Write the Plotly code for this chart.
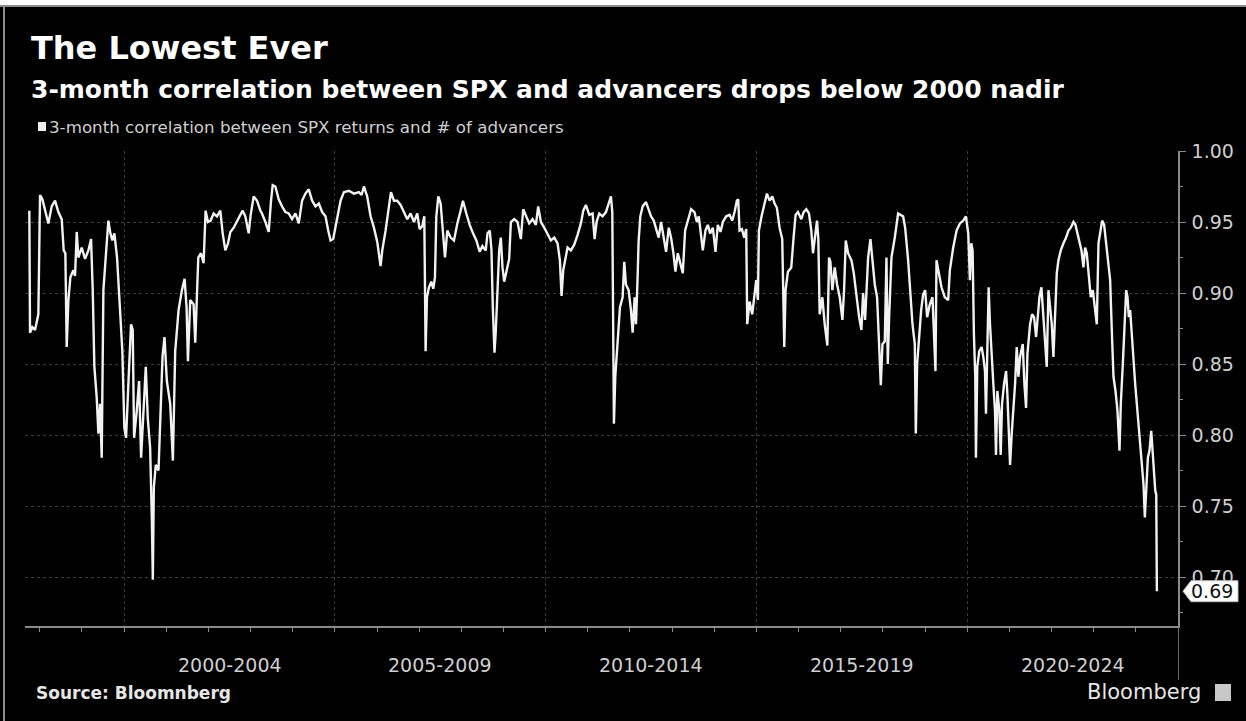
import plotly.graph_objects as go
from datetime import datetime

# ---------------- data (decimal year, correlation) ----------------
years_a = [1997.750, 1997.766, 1997.821, 1997.885, 1997.964, 1998.004, 1998.059, 1998.122, 1998.201, 1998.281,
           1998.360, 1998.439, 1998.518, 1998.566, 1998.605, 1998.637, 1998.677, 1998.724, 1998.795, 1998.835,
           1998.875, 1998.914, 1998.993, 1999.073, 1999.152, 1999.215, 1999.255, 1999.294, 1999.350, 1999.389,
           1999.429, 1999.468, 1999.508, 1999.563, 1999.626, 1999.674, 1999.721, 1999.769, 1999.832, 1999.903,
           1999.958, 2000.006, 2000.046, 2000.101, 2000.164, 2000.204, 2000.236, 2000.299, 2000.354, 2000.402,
           2000.457, 2000.513, 2000.560, 2000.616, 2000.656, 2000.680, 2000.703, 2000.750, 2000.814, 2000.861,
           2000.909, 2000.956, 2001.012, 2001.091, 2001.155, 2001.210, 2001.290, 2001.369, 2001.433, 2001.480,
           2001.512, 2001.567, 2001.647, 2001.686, 2001.726, 2001.758, 2001.821, 2001.884, 2001.932, 2001.988,
           2002.051, 2002.123, 2002.202, 2002.281, 2002.337, 2002.400, 2002.463, 2002.519, 2002.598, 2002.677,
           2002.756, 2002.812, 2002.875, 2002.954, 2003.002, 2003.073, 2003.152, 2003.232]
values_a = [0.958, 0.872, 0.876, 0.874, 0.885, 0.969, 0.966, 0.959, 0.949, 0.961,
            0.965, 0.957, 0.952, 0.930, 0.928, 0.862, 0.895, 0.911, 0.916, 0.912,
            0.943, 0.925, 0.932, 0.924, 0.930, 0.938, 0.902, 0.848, 0.826, 0.801,
            0.822, 0.784, 0.902, 0.925, 0.951, 0.942, 0.937, 0.942, 0.925, 0.888,
            0.859, 0.805, 0.798, 0.836, 0.878, 0.874, 0.798, 0.817, 0.838, 0.784,
            0.812, 0.848, 0.812, 0.791, 0.742, 0.698, 0.763, 0.779, 0.775, 0.817,
            0.855, 0.869, 0.838, 0.822, 0.782, 0.859, 0.888, 0.902, 0.910, 0.890,
            0.852, 0.895, 0.892, 0.865, 0.899, 0.925, 0.928, 0.921, 0.958, 0.950,
            0.951, 0.956, 0.954, 0.958, 0.942, 0.930, 0.935, 0.943, 0.946, 0.951,
            0.955, 0.958, 0.954, 0.942, 0.955, 0.968, 0.965, 0.958]

years_b = [2003.271, 2003.351, 2003.430, 2003.485, 2003.525, 2003.588, 2003.667, 2003.747, 2003.826, 2003.905,
           2003.984, 2004.063, 2004.143, 2004.222, 2004.301, 2004.380, 2004.459, 2004.539, 2004.618, 2004.697,
           2004.776, 2004.840, 2004.895, 2004.958, 2005.053, 2005.133, 2005.212, 2005.331, 2005.449, 2005.568,
           2005.632, 2005.687, 2005.766, 2005.845, 2005.925, 2006.004, 2006.083, 2006.123, 2006.202, 2006.281,
           2006.329, 2006.400, 2006.479, 2006.558, 2006.637, 2006.717, 2006.796, 2006.875, 2006.954, 2007.010,
           2007.073, 2007.121, 2007.152, 2007.184, 2007.231, 2007.287, 2007.334, 2007.374, 2007.406, 2007.453,
           2007.509, 2007.564, 2007.612, 2007.667, 2007.746, 2007.825, 2007.905, 2007.984, 2008.039, 2008.118,
           2008.198, 2008.277, 2008.356, 2008.435, 2008.499, 2008.578]
values_b = [0.956, 0.950, 0.943, 0.965, 0.976, 0.975, 0.966, 0.961, 0.957, 0.956,
            0.952, 0.956, 0.949, 0.965, 0.970, 0.973, 0.965, 0.961, 0.963, 0.957,
            0.954, 0.944, 0.937, 0.938, 0.954, 0.965, 0.971, 0.972, 0.970, 0.971,
            0.969, 0.975, 0.968, 0.954, 0.946, 0.936, 0.919, 0.930, 0.944, 0.961,
            0.971, 0.965, 0.965, 0.962, 0.957, 0.952, 0.956, 0.950, 0.956, 0.945,
            0.947, 0.954, 0.859, 0.897, 0.904, 0.908, 0.903, 0.911, 0.954, 0.968,
            0.963, 0.942, 0.925, 0.944, 0.939, 0.937, 0.949, 0.958, 0.965, 0.956,
            0.948, 0.942, 0.937, 0.929, 0.933, 0.930]

years_c = [2008.619, 2008.674, 2008.714, 2008.745, 2008.785, 2008.817, 2008.856, 2008.896, 2008.935, 2008.975,
           2009.015, 2009.070, 2009.133, 2009.173, 2009.252, 2009.331, 2009.410, 2009.466, 2009.529, 2009.609,
           2009.688, 2009.767, 2009.822, 2009.886, 2009.965, 2010.044, 2010.123, 2010.203, 2010.282, 2010.337,
           2010.377, 2010.416, 2010.464, 2010.519, 2010.598, 2010.678, 2010.757, 2010.836, 2010.892, 2010.955,
           2011.034, 2011.113, 2011.161, 2011.208, 2011.272, 2011.351, 2011.430, 2011.509, 2011.549, 2011.581,
           2011.604, 2011.620, 2011.652, 2011.707, 2011.763, 2011.826, 2011.866, 2011.905, 2011.969, 2012.024,
           2012.064, 2012.111, 2012.143, 2012.182, 2012.206, 2012.246, 2012.301, 2012.381, 2012.444, 2012.499,
           2012.563, 2012.618, 2012.681, 2012.737, 2012.792, 2012.856, 2012.919, 2012.974, 2013.030, 2013.077,
           2013.133, 2013.188, 2013.252, 2013.307, 2013.371, 2013.450, 2013.529, 2013.585, 2013.632, 2013.688,
           2013.727, 2013.790, 2013.846, 2013.901, 2013.965, 2014.028, 2014.083, 2014.147]
values_c = [0.942, 0.944, 0.930, 0.890, 0.858, 0.874, 0.906, 0.930, 0.939, 0.918,
            0.908, 0.916, 0.924, 0.950, 0.952, 0.950, 0.938, 0.959, 0.955, 0.949,
            0.952, 0.948, 0.961, 0.950, 0.946, 0.941, 0.937, 0.939, 0.935, 0.923,
            0.898, 0.916, 0.925, 0.932, 0.930, 0.934, 0.941, 0.949, 0.958, 0.962,
            0.955, 0.956, 0.938, 0.950, 0.956, 0.954, 0.957, 0.965, 0.968, 0.957,
            0.883, 0.808, 0.841, 0.864, 0.890, 0.897, 0.922, 0.906, 0.902, 0.888,
            0.872, 0.897, 0.878, 0.912, 0.937, 0.954, 0.961, 0.964, 0.958, 0.954,
            0.951, 0.945, 0.939, 0.950, 0.939, 0.929, 0.946, 0.939, 0.928, 0.915,
            0.928, 0.921, 0.914, 0.944, 0.951, 0.959, 0.957, 0.950, 0.954, 0.939,
            0.930, 0.944, 0.948, 0.942, 0.946, 0.929, 0.948, 0.943]

years_d = [2014.203, 2014.283, 2014.362, 2014.425, 2014.481, 2014.536, 2014.568, 2014.599, 2014.655, 2014.710,
           2014.758, 2014.782, 2014.837, 2014.900, 2014.956, 2014.995, 2015.035, 2015.059, 2015.122, 2015.193,
           2015.249, 2015.312, 2015.376, 2015.431, 2015.486, 2015.550, 2015.613, 2015.661, 2015.692, 2015.748,
           2015.827, 2015.882, 2015.930, 2015.985, 2016.065, 2016.120, 2016.183, 2016.247, 2016.302, 2016.342,
           2016.389, 2016.437, 2016.468, 2016.500, 2016.564, 2016.619, 2016.682, 2016.722, 2016.754, 2016.801,
           2016.857, 2016.912, 2016.975, 2017.039, 2017.078, 2017.118, 2017.173, 2017.253, 2017.308, 2017.371,
           2017.435, 2017.490, 2017.530, 2017.577, 2017.649, 2017.704, 2017.752, 2017.807, 2017.862, 2017.910,
           2017.950, 2017.989, 2018.045, 2018.084, 2018.116, 2018.148, 2018.203, 2018.282, 2018.361, 2018.417,
           2018.480, 2018.528, 2018.599, 2018.654, 2018.702, 2018.757, 2018.781, 2018.813, 2018.860, 2018.908,
           2018.955, 2019.003, 2019.050, 2019.114, 2019.177, 2019.217, 2019.248, 2019.272, 2019.336, 2019.391,
           2019.470, 2019.550, 2019.589]
values_d = [0.950, 0.954, 0.955, 0.951, 0.957, 0.965, 0.966, 0.944, 0.945, 0.939,
            0.945, 0.878, 0.894, 0.885, 0.901, 0.909, 0.895, 0.944, 0.954, 0.963,
            0.970, 0.965, 0.968, 0.963, 0.960, 0.946, 0.938, 0.862, 0.902, 0.915,
            0.918, 0.939, 0.955, 0.957, 0.952, 0.957, 0.959, 0.956, 0.944, 0.928,
            0.939, 0.951, 0.938, 0.885, 0.897, 0.878, 0.863, 0.925, 0.922, 0.902,
            0.918, 0.906, 0.897, 0.881, 0.902, 0.937, 0.928, 0.923, 0.914, 0.897,
            0.883, 0.874, 0.900, 0.881, 0.925, 0.938, 0.921, 0.906, 0.897, 0.859,
            0.835, 0.864, 0.866, 0.925, 0.850, 0.883, 0.925, 0.939, 0.956, 0.955,
            0.954, 0.946, 0.923, 0.899, 0.878, 0.864, 0.801, 0.850, 0.869, 0.888,
            0.899, 0.902, 0.883, 0.892, 0.897, 0.869, 0.845, 0.923, 0.911, 0.904,
            0.897, 0.895, 0.916]

years_e = [2019.669, 2019.749, 2019.828, 2019.907, 2019.970, 2020.026, 2020.065, 2020.097, 2020.129, 2020.160,
           2020.192, 2020.208, 2020.240, 2020.287, 2020.343, 2020.382, 2020.422, 2020.446, 2020.477, 2020.509,
           2020.541, 2020.580, 2020.620, 2020.659, 2020.683, 2020.715, 2020.762, 2020.794, 2020.826, 2020.873,
           2020.921, 2020.952, 2020.984, 2021.016, 2021.055, 2021.095, 2021.135, 2021.174, 2021.214, 2021.253,
           2021.317, 2021.356, 2021.396, 2021.428, 2021.491, 2021.539, 2021.586, 2021.634, 2021.665, 2021.713,
           2021.760, 2021.808, 2021.847, 2021.887, 2021.927, 2021.966, 2022.006, 2022.045, 2022.085, 2022.125,
           2022.164, 2022.220, 2022.283, 2022.346, 2022.402, 2022.457, 2022.521, 2022.568, 2022.616, 2022.663,
           2022.711, 2022.758, 2022.798, 2022.837, 2022.885, 2022.932, 2022.980, 2023.027, 2023.075, 2023.115,
           2023.154, 2023.202, 2023.249, 2023.297, 2023.344, 2023.392, 2023.431, 2023.471, 2023.519, 2023.566,
           2023.614, 2023.645, 2023.693, 2023.732, 2023.772, 2023.804, 2023.835, 2023.867, 2023.907, 2023.946,
           2023.986, 2024.025, 2024.065, 2024.105, 2024.144, 2024.184, 2024.215, 2024.247, 2024.287, 2024.326,
           2024.366, 2024.398, 2024.429, 2024.461, 2024.485, 2024.500]
values_e = [0.932, 0.944, 0.949, 0.951, 0.954, 0.942, 0.909, 0.935, 0.930, 0.871,
            0.841, 0.784, 0.848, 0.859, 0.862, 0.855, 0.845, 0.815, 0.859, 0.904,
            0.878, 0.852, 0.836, 0.817, 0.786, 0.831, 0.817, 0.786, 0.822, 0.836,
            0.845, 0.829, 0.808, 0.779, 0.801, 0.817, 0.836, 0.862, 0.841, 0.855,
            0.864, 0.836, 0.819, 0.857, 0.878, 0.885, 0.883, 0.869, 0.883, 0.897,
            0.904, 0.885, 0.869, 0.848, 0.902, 0.892, 0.878, 0.855, 0.883, 0.914,
            0.923, 0.930, 0.935, 0.939, 0.944, 0.946, 0.950, 0.948, 0.942, 0.937,
            0.930, 0.918, 0.932, 0.928, 0.911, 0.897, 0.902, 0.888, 0.878, 0.935,
            0.944, 0.951, 0.948, 0.935, 0.925, 0.909, 0.874, 0.841, 0.831, 0.817,
            0.789, 0.822, 0.850, 0.878, 0.902, 0.897, 0.883, 0.888, 0.869, 0.850,
            0.836, 0.822, 0.808, 0.789, 0.775, 0.765, 0.742, 0.765, 0.784, 0.789,
            0.803, 0.789, 0.775, 0.761, 0.758, 0.690]

period_labels = ["2000-2004", "2005-2009", "2010-2014", "2015-2019", "2020-2024"]
period_starts = [2000, 2005, 2010, 2015, 2020]
y_ticks = [0.70, 0.75, 0.80, 0.85, 0.90, 0.95, 1.00]
last_label = "0.69"

# ---------------- assemble ----------------
years = years_a + years_b + years_c + years_d + years_e
values = values_a + values_b + values_c + values_d + values_e
assert len(years) == len(values)


def to_date(y):
    yi = int(y)
    s, e = datetime(yi, 1, 1), datetime(yi + 1, 1, 1)
    return s + (e - s) * (y - yi)


dates = [to_date(y) for y in years]

W, H = 1246, 721
L, R, T, B = 25, 68, 151, 95
PW, PH = W - L - R, H - T - B
Y_MIN, Y_MAX = 0.6655, 1.0


def px(x):
    return (x - L) / PW


def py(y):
    return (H - B - y) / PH


FONT = "DejaVu Sans"
GRAY = "#cfcfcf"
AX = "#8a8a8a"

fig = go.Figure()
fig.add_trace(go.Scatter(x=dates, y=values, mode="lines",
                         line=dict(color="#f2f2f2", width=2.4),
                         name="3-month correlation between SPX returns and # of advancers",
                         showlegend=False, hoverinfo="skip"))

major_x = [datetime(y, 1, 1) for y in period_starts + [2025]]
minor_x = [datetime(y, 1, 1) for y in range(1998, 2025)]

fig.update_xaxes(
    type="date", range=[to_date(1997.647), datetime(2025, 1, 1)],
    tickmode="array", tickvals=major_x, ticktext=[""] * len(major_x),
    ticks="outside", ticklen=52, tickcolor="#6a6a6a", tickwidth=1,
    showgrid=True, gridcolor="#3c3c3c", griddash="dot", gridwidth=1,
    showline=True, linecolor=AX, linewidth=1.5,
    minor=dict(tickvals=minor_x, ticks="outside", ticklen=4, tickcolor=AX, showgrid=False),
    zeroline=False, fixedrange=True,
)
fig.update_yaxes(
    side="right", range=[Y_MIN, Y_MAX],
    tickmode="array", tickvals=y_ticks, ticktext=[f"{v:.2f}" for v in y_ticks],
    ticks="outside", ticklen=6, tickcolor=AX, ticklabelstandoff=2,
    tickfont=dict(family=FONT, size=19, color=GRAY),
    showgrid=True, gridcolor="#3c3c3c", griddash="dot", gridwidth=1,
    showline=True, linecolor=AX, linewidth=1.5,
    minor=dict(dtick=0.025, tick0=0, ticks="outside", ticklen=3, tickcolor=AX, showgrid=False),
    zeroline=False, fixedrange=True,
)

ann = []
ann.append(dict(text="<b>The Lowest Ever</b>", x=px(29), y=py(48), xref="paper", yref="paper",
                xanchor="left", yanchor="middle", showarrow=False,
                font=dict(family=FONT, size=32, color="white")))
ann.append(dict(text="<b>3-month correlation between SPX and advancers drops below 2000 nadir</b>",
                x=px(29), y=py(89), xref="paper", yref="paper",
                xanchor="left", yanchor="middle", showarrow=False,
                font=dict(family=FONT, size=25, color="white")))
ann.append(dict(text="3-month correlation between SPX returns and # of advancers",
                x=px(47), y=py(127), xref="paper", yref="paper",
                xanchor="left", yanchor="middle", showarrow=False,
                font=dict(family=FONT, size=16.7, color=GRAY)))
for lab, st in zip(period_labels, period_starts):
    ann.append(dict(text=lab, x=to_date(st + 2.5), y=py(665), xref="x", yref="paper",
                    xanchor="center", yanchor="middle", showarrow=False,
                    font=dict(family=FONT, size=19, color=GRAY)))
ann.append(dict(text="<b>Source: Bloomnberg</b>", x=px(34), y=py(693), xref="paper", yref="paper",
                xanchor="left", yanchor="middle", showarrow=False,
                font=dict(family=FONT, size=17, color="#e6e6e6")))
ann.append(dict(text="Bloomberg", x=px(1203), y=py(692), xref="paper", yref="paper",
                xanchor="right", yanchor="middle", showarrow=False,
                font=dict(family=FONT, size=21, color="#e6e6e6")))

last_v = values[-1]
dpp = (Y_MAX - Y_MIN) / PH
hh = 10.5 * dpp
ann.append(dict(text=last_label, x=px(1212), y=last_v, xref="paper", yref="y",
                xanchor="center", yanchor="middle", showarrow=False,
                font=dict(family=FONT, size=19, color="#111111")))

shapes = []
# screenshot frame remnants
shapes.append(dict(type="rect", xref="paper", yref="paper", x0=px(0), x1=px(W), y0=py(0), y1=py(5),
                   fillcolor="white", line=dict(width=0), layer="above"))
shapes.append(dict(type="rect", xref="paper", yref="paper", x0=px(0), x1=px(W), y0=py(5), y1=py(7),
                   fillcolor="#8c8c8c", line=dict(width=0), layer="above"))
shapes.append(dict(type="rect", xref="paper", yref="paper", x0=px(3), x1=px(5), y0=py(7), y1=py(H),
                   fillcolor="#8c8c8c", line=dict(width=0), layer="above"))
# legend swatch
shapes.append(dict(type="rect", xref="paper", yref="paper", x0=px(38), x1=px(46), y0=py(122), y1=py(131),
                   fillcolor="#eeeeee", line=dict(width=0), layer="above"))
# last value tag
path = (f"M {px(1183)},{last_v} L {px(1191)},{last_v + hh} L {px(1238)},{last_v + hh} "
        f"L {px(1238)},{last_v - hh} L {px(1191)},{last_v - hh} Z")
shapes.append(dict(type="path", xref="paper", yref="y", path=path,
                   fillcolor="white", line=dict(color="#bbbbbb", width=1), layer="above"))
# Bloomberg icon
shapes.append(dict(type="rect", xref="paper", yref="paper", x0=px(1215), x1=px(1231), y0=py(701), y1=py(684),
                   fillcolor="#c8c8c8", line=dict(width=0), layer="above"))

fig.update_layout(
    width=W, height=H,
    margin=dict(l=L, r=R, t=T, b=B, autoexpand=False),
    paper_bgcolor="black", plot_bgcolor="black",
    showlegend=False, annotations=ann, shapes=shapes,
    font=dict(family=FONT, color=GRAY),
)

fig.write_html("out.html", config={"displayModeBar": False})
